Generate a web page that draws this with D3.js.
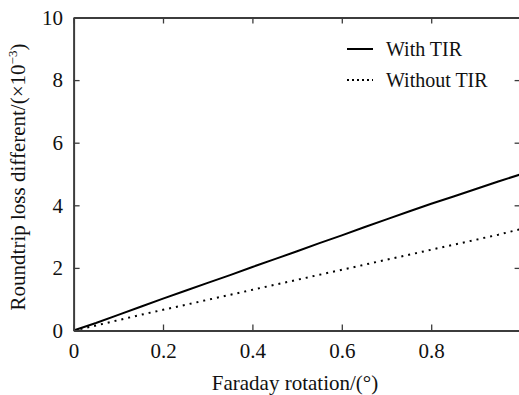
<!DOCTYPE html>
<html>
<head>
<meta charset="utf-8">
<script src="https://cdn.jsdelivr.net/npm/d3@7"></script>
<style>
  html, body { margin: 0; padding: 0; background: #fff; overflow: hidden; }
  svg { display: block; }
  text { font-family: "Liberation Serif", "Times New Roman", serif; fill: #111; }
</style>
</head>
<body>
<script>
// ---- data ----
const faradayRotation = [0, 0.05, 0.1, 0.15, 0.2, 0.25, 0.3, 0.35, 0.4, 0.45, 0.5, 0.55, 0.6, 0.65, 0.7, 0.75, 0.8, 0.85, 0.9, 0.95, 1.0];
const withTIR = [0, 0.24, 0.50, 0.76, 1.02, 1.27, 1.52, 1.77, 2.03, 2.28, 2.53, 2.79, 3.04, 3.30, 3.55, 3.80, 4.05, 4.28, 4.52, 4.76, 4.99];
const withoutTIR = [0, 0.16, 0.33, 0.50, 0.66, 0.82, 0.98, 1.14, 1.30, 1.46, 1.62, 1.78, 1.94, 2.10, 2.26, 2.42, 2.58, 2.74, 2.90, 3.06, 3.24];
const xTicks = [0, 0.2, 0.4, 0.6, 0.8];
const yTicks = [0, 2, 4, 6, 8, 10];
const seriesNames = ["With TIR", "Without TIR"];

// ---- layout ----
const W = 519, H = 395;
const L = 73.6, R = 520.6, T = 17.5, B = 330.5;
const axisColor = "#3c3c3c";
const fs = 21;

const svg = d3.select("body").append("svg").attr("width", W).attr("height", H);

const x = d3.scaleLinear().domain([0, 1]).range([L, R]);
const y = d3.scaleLinear().domain([0, 10]).range([B, T]);

svg.append("defs").append("clipPath").attr("id", "clip")
  .append("rect").attr("x", L).attr("y", T).attr("width", R - L).attr("height", B - T);

// lines
const line = d3.line().x((d, i) => x(faradayRotation[i])).y(d => y(d));
const g = svg.append("g").attr("clip-path", "url(#clip)");
g.append("path").datum(withTIR).attr("d", line)
  .attr("fill", "none").attr("stroke", "#000").attr("stroke-width", 2);
g.append("path").datum(withoutTIR).attr("d", line)
  .attr("fill", "none").attr("stroke", "#000").attr("stroke-width", 2)
  .attr("stroke-dasharray", "2,5");

// axes
const tick = 6;
const xAxis = svg.append("g").attr("transform", `translate(0,${B})`)
  .call(d3.axisBottom(x).tickValues(xTicks).tickFormat(d3.format("")).tickSizeInner(-tick).tickSizeOuter(0).tickPadding(12.5));
const xTop = svg.append("g").attr("transform", `translate(0,${T})`)
  .call(d3.axisTop(x).tickValues(xTicks).tickFormat("").tickSizeInner(-tick).tickSizeOuter(0));
const yAxis = svg.append("g").attr("transform", `translate(${L},0)`)
  .call(d3.axisLeft(y).tickValues(yTicks).tickFormat(d3.format("d")).tickSizeInner(-tick).tickSizeOuter(0).tickPadding(10.5));
const yRight = svg.append("g").attr("transform", `translate(${R},0)`)
  .call(d3.axisRight(y).tickValues(yTicks).tickFormat("").tickSizeInner(-tick).tickSizeOuter(0));

[xAxis, xTop, yAxis, yRight].forEach(a => {
  a.select(".domain").attr("stroke", axisColor).attr("stroke-width", 2);
  a.selectAll(".tick line").attr("stroke", axisColor).attr("stroke-width", 1.3);
  a.selectAll(".tick text").attr("font-size", fs)
    .attr("font-family", '"Liberation Serif", "Times New Roman", serif').attr("fill", "#111");
});

// axis titles
svg.append("text").attr("x", 295).attr("y", 390).attr("text-anchor", "middle")
  .attr("font-size", 21).text("Faraday rotation/(°)");

const yt = svg.append("text").attr("transform", "translate(25,177) rotate(-90)")
  .attr("text-anchor", "middle").attr("font-size", 21);
yt.append("tspan").text("Roundtrip loss different/(×10");
yt.append("tspan").attr("font-size", 13).attr("dy", -8).text("−3");
yt.append("tspan").attr("dy", 8).text(")");

// legend
const legY = [49, 80];
const legend = svg.append("g");
seriesNames.forEach((name, i) => {
  legend.append("line").attr("x1", 347).attr("x2", 373).attr("y1", legY[i]).attr("y2", legY[i])
    .attr("stroke", "#000").attr("stroke-width", 2)
    .attr("stroke-dasharray", i === 1 ? "2,3" : null);
  legend.append("text").attr("x", 386).attr("y", legY[i]).attr("dy", "0.35em")
    .attr("font-size", 20).text(name);
});
</script>
</body>
</html>
